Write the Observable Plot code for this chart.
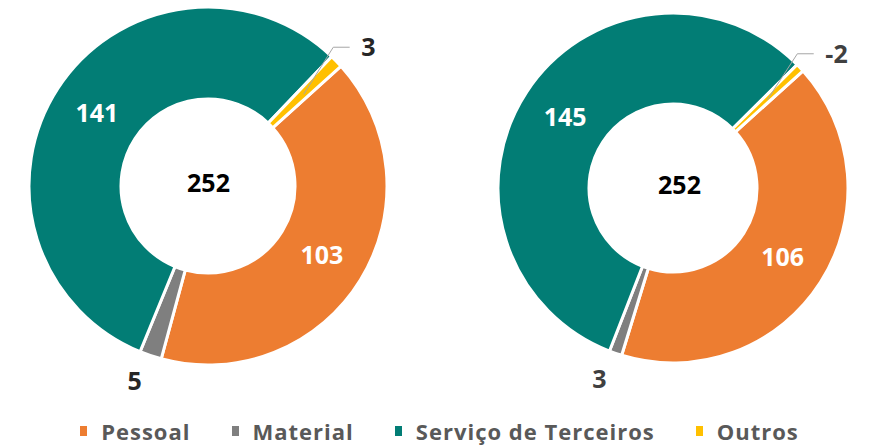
<!DOCTYPE html>
<html><head><meta charset="utf-8">
<script src="https://cdn.jsdelivr.net/npm/d3@7"></script>
<script src="https://cdn.jsdelivr.net/npm/@observablehq/plot@0.6"></script>
<style>
body{margin:0;background:#fff;}
#chart{width:879px;height:447px;position:relative;}
.lg-swatches{justify-content:center;margin-left:0 !important;}
.lg-swatch{margin-right:41px !important;}
.lg-swatch:last-child{margin-right:0 !important;}
.lg-swatch svg{margin-right:14px !important;}
</style></head>
<body><div id="chart"></div>
<script>
// ---- data ----
const categories = ["Pessoal", "Material", "Serviço de Terceiros", "Outros"];
const colors = ["#ED7D31", "#7F7F7F", "#027D75", "#FFC000"];
const chartIds = ["esquerda", "direita"];
const totals = [252, 252];
const valuesLeft = [103, 5, 141, 3];
const valuesRight = [106, 3, 145, -2];
const series = [valuesLeft, valuesRight];

// ---- layout ----
const W = 879, H = 400;
const geom = [
  {cx: 208, cy: 186, r: 179, ir: 87},
  {cx: 673, cy: 188, r: 175, ir: 84}
];
const startDeg = 48;
const rad = Math.PI / 180;
const color = d3.scaleOrdinal(categories, colors);

const pie = d3.pie().value(d => Math.abs(d.value)).sort(null)
  .startAngle(startDeg * rad).endAngle((startDeg + 360) * rad);

const polar = (g, a, r) => [g.cx + Math.sin(a) * r, g.cy - Math.cos(a) * r];

const slices = [];
const labels = [];
const leaders = [];
series.forEach((vals, i) => {
  const g = geom[i];
  const rows = categories.map((c, j) => ({chart: chartIds[i], category: c, value: vals[j]}));
  pie(rows).forEach(p => {
    const mid = (p.startAngle + p.endAngle) / 2;
    slices.push({...p, g, category: p.data.category});
    const big = Math.abs(p.data.value) >= 20;
    if (big) {
      const [x, y] = polar(g, mid, (g.r + g.ir) / 2);
      labels.push({x, y, text: String(p.data.value), fill: "#fff", anchor: "middle"});
    } else if (Math.cos(mid) > 0) {
      const s = polar(g, mid, (g.r + g.ir) / 2);
      const e = polar(g, mid - 4 * rad, g.r + 8);
      const h = [e[0] + 16, e[1]];
      leaders.push({id: chartIds[i], pts: [s, e, h]});
      labels.push({x: h[0] + 12, y: h[1] + 1, text: String(p.data.value), fill: i === 0 ? "#262626" : "#404040", anchor: "start"});
    } else {
      const [x, y] = polar(g, mid + 2 * rad, g.r + 30);
      labels.push({x, y, text: String(p.data.value), fill: i === 0 ? "#262626" : "#404040", anchor: "middle"});
    }
  });
  labels.push({x: g.cx + (i === 0 ? 0 : 6), y: g.cy - 3, text: String(totals[i]), fill: "#000", anchor: "middle"});
});

const leaderPts = leaders.flatMap(l => l.pts.map(p => ({id: l.id, x: p[0], y: p[1]})));

const arc = d3.arc();
const slicesMark = (index, scales, values, dimensions) => {
  const gEl = d3.create("svg:g");
  gEl.selectAll("path").data(slices).join("path")
    .attr("transform", d => `translate(${scales.x(d.g.cx)},${scales.y(d.g.cy)})`)
    .attr("d", d => arc({innerRadius: d.g.ir, outerRadius: d.g.r, startAngle: d.startAngle, endAngle: d.endAngle}))
    .attr("fill", d => color(d.category))
    .attr("stroke", "#fff")
    .attr("stroke-width", 3)
    .attr("stroke-linejoin", "miter");
  return gEl.node();
};

const plot = Plot.plot({
  width: W, height: H,
  margin: 0,
  x: {type: "identity", axis: null},
  y: {type: "identity", axis: null},
  style: {fontFamily: "'Open Sans', sans-serif", background: "#fff"},
  marks: [
    slicesMark,
    Plot.line(leaderPts, {x: "x", y: "y", z: "id", stroke: "#A6A6A6", strokeWidth: 1}),
    Plot.text(labels.filter(d => d.anchor === "middle"), {x: "x", y: "y", text: "text", fill: "fill", fontSize: 25, fontWeight: "bold", textAnchor: "middle"}),
    Plot.text(labels.filter(d => d.anchor === "start"), {x: "x", y: "y", text: "text", fill: "fill", fontSize: 25, fontWeight: "bold", textAnchor: "start"})
  ]
});

const legend = Plot.legend({
  color: {type: "ordinal", domain: categories, range: colors},
  legend: "swatches",
  swatchWidth: 7, swatchHeight: 10,
  className: "lg",
  style: {fontFamily: "'Open Sans', sans-serif", fontSize: "22px", fontWeight: "bold", color: "#595959", letterSpacing: "1px", height: "30px", margin: "0", paddingTop: "14px", alignItems: "center"}
});

const root = document.getElementById("chart");
root.appendChild(plot);
root.appendChild(legend);
</script>
</body></html>
